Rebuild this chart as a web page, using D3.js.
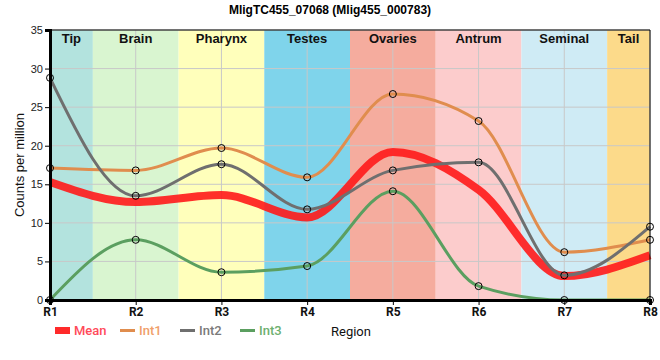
<!DOCTYPE html>
<html><head><meta charset="utf-8">
<script src="https://cdn.jsdelivr.net/npm/d3@7"></script>
<style>body{margin:0;background:#fff}svg{display:block}</style>
</head><body><svg id="c" width="660" height="360"></svg>
<script>
const regions = ["R1","R2","R3","R4","R5","R6","R7","R8"];
const bandLabels = ["Tip","Brain","Pharynx","Testes","Ovaries","Antrum","Seminal","Tail"];
const bandColors = ["#b3e3de","#d9f5d0","#ffffbb","#7fd4eb","#f5ac9e","#fccccc","#cfebf5","#fcda8a"];
const meanVals = [15.3, 12.7, 13.6, 10.7, 19.2, 14.3, 3.1, 5.8];
const int1Vals = [17.1, 16.8, 19.7, 15.9, 26.7, 23.2, 6.2, 7.8];
const int2Vals = [28.8, 13.5, 17.6, 11.75, 16.8, 17.85, 3.2, 9.5];
const int3Vals = [0, 7.8, 3.6, 4.4, 14.1, 1.8, 0, 0];
const yTicks = [0,5,10,15,20,25,30,35];
const title = "MligTC455_07068 (Mlig455_000783)";

const svg = d3.select("#c");
const L=50,R=650,T=30,B=300;
const x = d3.scaleLinear().domain([0, regions.length-1]).range([L,R]);
const y = d3.scaleLinear().domain([0,35]).range([B,T]);

// bands
const bands = bandLabels.map((lab,i)=>({lab, col:bandColors[i], x0:Math.max(0,i-0.5), x1:Math.min(regions.length-1,i+0.5)}));
svg.selectAll("rect.band").data(bands).join("rect")
  .attr("x",d=>x(d.x0)).attr("y",T).attr("width",d=>x(d.x1)-x(d.x0)).attr("height",B-T)
  .attr("fill",d=>d.col);

// grid
svg.append("g").selectAll("line").data(yTicks).join("line")
  .attr("x1",L).attr("x2",R).attr("y1",d=>y(d)).attr("y2",d=>y(d))
  .attr("stroke","#c8c8c8").attr("stroke-width",1);
svg.append("g").selectAll("line").data(regions.map((r,i)=>i)).join("line")
  .attr("x1",d=>x(d)).attr("x2",d=>x(d)).attr("y1",T).attr("y2",B)
  .attr("stroke","#c8c8c8").attr("stroke-width",1);

// band labels
svg.append("g").selectAll("text").data(bands).join("text")
  .attr("x",d=>(x(d.x0)+x(d.x1))/2).attr("y",T+13)
  .attr("text-anchor","middle").attr("font-family","Liberation Sans, Arial, sans-serif")
  .attr("font-weight","bold").attr("font-size","13px").attr("fill","#111").text(d=>d.lab);

const line = d3.line().x((d,i)=>x(i)).y(d=>y(d)).curve(d3.curveMonotoneX);

svg.append("path").attr("d",line(meanVals)).attr("fill","none")
  .attr("stroke","#ff1a1a").attr("stroke-opacity",0.9).attr("stroke-width",8);

const series = [
  {name:"Int1", vals:int1Vals, col:"#e08d4e", text:"#f0a06a"},
  {name:"Int2", vals:int2Vals, col:"#6f6f6f", text:"#7a7a7a"},
  {name:"Int3", vals:int3Vals, col:"#5b9f60", text:"#6db06f"}
];
series.forEach(s=>{
  svg.append("path").attr("d",line(s.vals)).attr("fill","none")
    .attr("stroke",s.col).attr("stroke-width",3);
});
series.forEach(s=>{
  svg.append("g").selectAll("circle").data(s.vals).join("circle")
    .attr("cx",(d,i)=>x(i)).attr("cy",d=>y(d)).attr("r",3.5)
    .attr("fill","none").attr("stroke","#000").attr("stroke-width",1);
});

// frame
svg.append("line").attr("x1",L).attr("x2",R).attr("y1",T).attr("y2",T).attr("stroke","#000").attr("stroke-width",1);
svg.append("line").attr("x1",R).attr("x2",R).attr("y1",T).attr("y2",B).attr("stroke","#000").attr("stroke-width",1);

// axes
const yAxis = svg.append("g").attr("transform",`translate(${L},0)`)
  .call(d3.axisLeft(y).tickValues(yTicks).tickSize(5).tickPadding(2));
yAxis.select(".domain").attr("stroke","#000").attr("stroke-width",3);
yAxis.selectAll("text").attr("font-family","Liberation Sans, Arial, sans-serif").attr("font-size","11px").attr("fill","#222");
const xAxis = svg.append("g").attr("transform",`translate(0,${B})`)
  .call(d3.axisBottom(x).tickValues(regions.map((r,i)=>i)).tickFormat(i=>regions[i]).tickSize(5).tickPadding(2));
xAxis.select(".domain").attr("stroke","#000").attr("stroke-width",3);
xAxis.selectAll("text").attr("font-family","Roboto, sans-serif").attr("font-weight","bold").attr("font-size","12px").attr("fill","#111");

// titles
svg.append("text").attr("x",330).attr("y",14).attr("text-anchor","middle")
  .attr("font-family","Liberation Sans, Arial, sans-serif").attr("font-weight","bold").attr("font-size","12px").text(title);
svg.append("text").attr("transform","translate(24,165) rotate(-90)").attr("text-anchor","middle")
  .attr("font-family","Liberation Sans, Arial, sans-serif").attr("font-size","13px").attr("fill","#111").text("Counts per million");
svg.append("text").attr("x",331).attr("y",336)
  .attr("font-family","Roboto, sans-serif").attr("font-size","13px").attr("fill","#111").text("Region");

// legend
const lg = svg.append("g").attr("font-family","Roboto, sans-serif").attr("font-size","13px");
lg.append("rect").attr("x",55).attr("y",327).attr("width",15).attr("height",7).attr("fill","#ff2a2a");
lg.append("text").attr("x",74).attr("y",335).attr("fill","#ff4a5a").attr("font-weight","500").text("Mean");
series.forEach((s,k)=>{
  const x0 = 120 + k*60;
  lg.append("line").attr("x1",x0).attr("x2",x0+15).attr("y1",330.5).attr("y2",330.5).attr("stroke",s.col).attr("stroke-width",3);
  lg.append("text").attr("x",x0+19).attr("y",335).attr("fill",s.text).attr("font-weight","500").text(s.name);
});
</script></body></html>
